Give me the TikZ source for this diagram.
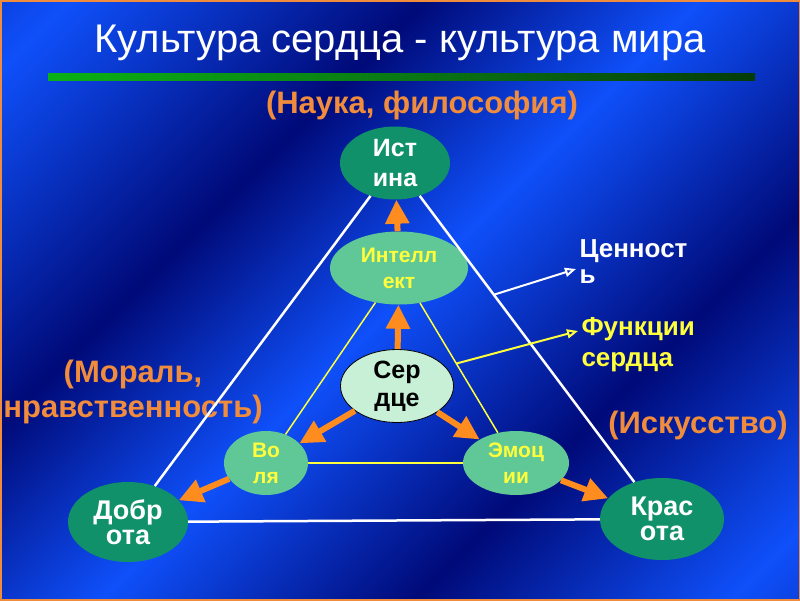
\documentclass[tikz,border=0pt]{standalone}
\usepackage{fontspec}
\setmainfont{Liberation Sans}
\usepackage{tikz}
\usetikzlibrary{positioning}
\usetikzlibrary{shapes,calc,arrows.meta}
\definecolor{navy}{RGB}{0,10,120}
\definecolor{brightblue}{RGB}{15,80,250}
\definecolor{deepgreen}{RGB}{16,145,105}
\definecolor{softgreen}{RGB}{95,200,150}
\definecolor{palegreen}{RGB}{200,240,215}
\definecolor{labelorange}{RGB}{240,140,60}
\definecolor{arroworange}{RGB}{255,140,30}
\definecolor{lineyellow}{RGB}{255,255,60}
\definecolor{rulegreen}{RGB}{10,235,20}
\definecolor{rulemid}{RGB}{10,120,20}
\pgfdeclarehorizontalshading{streaks}{100bp}{color(0bp)=(navy); color(18bp)=(brightblue);
  color(34bp)=(navy); color(50bp)=(brightblue); color(64bp)=(navy); color(82bp)=(brightblue); color(100bp)=(navy)}
\pgfdeclarehorizontalshading{rule}{100bp}{color(0bp)=(rulegreen); color(50bp)=(rulemid); color(100bp)=(black)}
\tikzset{
  semithick,
  goal/.style ={ellipse, fill=deepgreen, text=white, inner sep=0pt, align=center,
   font=\bfseries\fontsize{27}{25}\selectfont},
  faculty/.style ={ellipse, fill=softgreen, text=lineyellow, inner sep=0pt, align=center,
   font=\bfseries\fontsize{21}{26}\selectfont},
  heart/.style ={ellipse, draw=black, thick, fill=palegreen, inner sep=0pt, align=center,
   font=\bfseries\fontsize{25}{28}\selectfont},
  theme/.style = {text=labelorange, align=center, font=\bfseries\fontsize{31}{35}\selectfont},
  rim/.style = {white, line width=2.5pt},
  chord/.style = {lineyellow, line width=1.5pt},
  push/.style = {arroworange, line width=6pt, -{Triangle[length=24pt,width=23pt]}},
  pointer/.style = {line width=2pt, -{Triangle[open,length=11pt,width=9pt]}},
}
\begin{document}
\begin{tikzpicture}[x=1pt, y=-1pt]
  \useasboundingbox (0,0) rectangle (800,600);
  \fill[shading=streaks, shading angle=135] (0,0) rectangle (800,600);
  \draw[labelorange, line width=3pt] (0,0) rectangle (800,600);
  \shade[shading=rule] (48,73) rectangle (755,80);

  \node (title) at (400,43) [text=white, font=\fontsize{40}{42}\selectfont] {Культура сердца - культура мира};
  \node (sci) at (422,105) [theme] {(Наука, философия)};
  \node (mor) at (133,392) [theme] {(Мораль,\\нравственность)};
  \node (art) at (698,425) [theme] {(Искусство)};

  \node (Ist) at (395,163) [goal, minimum width=110, minimum height=73,
    font=\bfseries\fontsize{25}{30}\selectfont] {Ист\\ина};
  \node (Int) at (399,268) [faculty, minimum width=138, minimum height=73] {Интелл\\ект};
  \node (Ser) at (397,386) [heart, minimum width=113, minimum height=73] {Сер\\дце};
  \node (Vol) at (266,463) [faculty, minimum width=84, minimum height=64] {Во\\ля};
  \node (Emo) at (516,463) [faculty, minimum width=106, minimum height=64] {Эмоц\\ии};
  \node (Dob) at (128,522) [goal, minimum width=120, minimum height=80] {Добр\\ота};
  \node (Kra) at (662,519) [goal, minimum width=124, minimum height=82] {Крас\\ота};

  \node (val) at (576,262) [anchor=west, text=white, align=left,
    font=\bfseries\fontsize{26}{26}\selectfont] {Ценност\\ь};
  \node (fun) at (578,345) [anchor=west, text=lineyellow, align=left,
    font=\bfseries\fontsize{26}{31}\selectfont] {Функции\\сердца};

  \coordinate (vp) at ($(Ist)!0.37!(Kra)$);
  \coordinate (fp) at ($(Int)!0.49!(Emo)$);

  \path[rim] (Ist) edge (Dob) (Ist) edge (Kra) (Dob) edge (Kra);
  \path[chord] (Int) edge (Vol) (Int) edge (Emo) (Vol) edge (Emo);
  \path[push] (Ser) edge (Int) (Int) edge (Ist) (Ser) edge (Vol)
    (Ser) edge (Emo) (Vol) edge (Dob) (Emo) edge (Kra);
  \path[pointer, white] (vp) edge ([yshift=-7pt]val.west);
  \path[pointer, lineyellow] (fp) edge ([yshift=14pt]fun.west);
\end{tikzpicture}
\end{document}
